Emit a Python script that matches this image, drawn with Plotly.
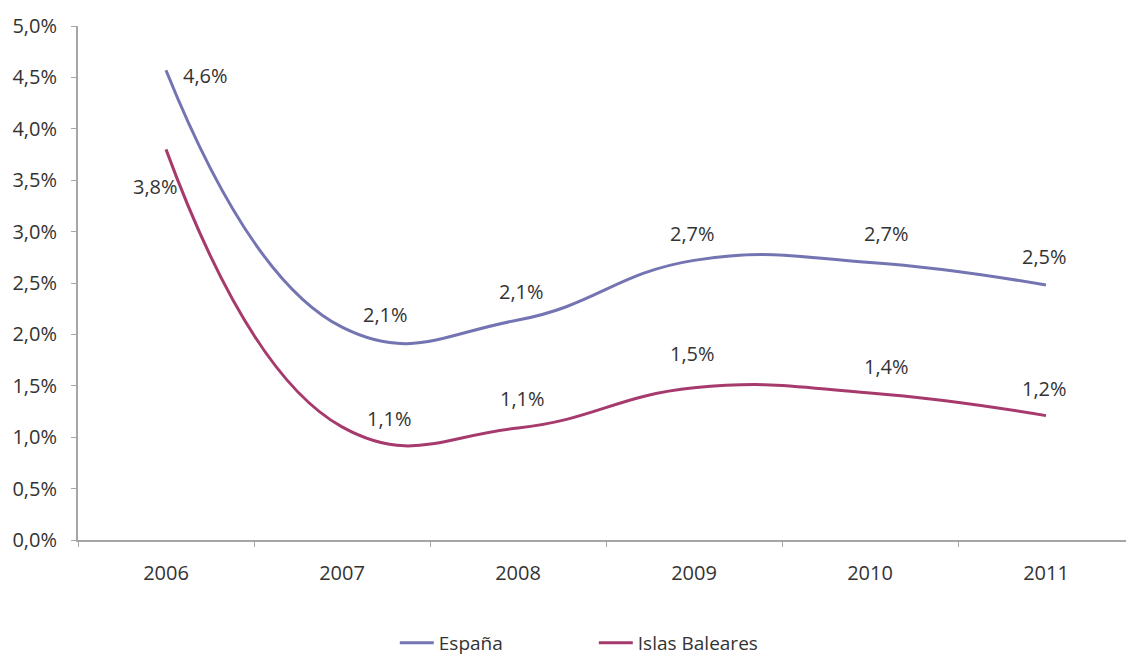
import plotly.graph_objects as go

years = ["2006", "2007", "2008", "2009", "2010", "2011"]
espana = [4.57, 2.07, 2.14, 2.72, 2.70, 2.48]
baleares = [3.80, 1.10, 1.09, 1.48, 1.43, 1.21]

# label offsets in pixels (dx, dy), dy positive = up
espana_offsets = [(39, -5), (43, 13), (3, 29), (-2, 27), (16, 29), (-2, 29)]
baleares_offsets = [(-11, -37), (47, 8), (4, 29), (-2, 34), (16, 27), (-2, 27)]

COLOR_ES = "#7474B2"
COLOR_IB = "#A63A6D"
FONT = "'Open Sans', 'Noto Sans', sans-serif"
TXT = "#333333"


def fmt(v):
    return f"{v:.1f}".replace(".", ",") + "%"


fig = go.Figure()
fig.add_trace(go.Scatter(
    x=years, y=espana, mode="lines", name="España",
    line=dict(color=COLOR_ES, width=3, shape="spline", smoothing=1.3),
))
fig.add_trace(go.Scatter(
    x=years, y=baleares, mode="lines", name="Islas Baleares",
    line=dict(color=COLOR_IB, width=3, shape="spline", smoothing=1.3),
))

# category axis: annotations placed by index so "2006" isn't read as a number
for vals, offs in ((espana, espana_offsets), (baleares, baleares_offsets)):
    for i, (v, (dx, dy)) in enumerate(zip(vals, offs)):
        fig.add_annotation(
            x=i, y=v, xref="x", yref="y", text=fmt(v), showarrow=False,
            xshift=dx, yshift=dy,
            font=dict(family=FONT, size=20, color=TXT),
        )

# page body has an 8px margin, so the figure is 8px smaller than the window
fig.update_layout(
    width=1126, height=653,
    margin=dict(l=70, r=0, t=18, b=121, autoexpand=False),
    plot_bgcolor="white", paper_bgcolor="white",
    separators=",.",
    font=dict(family=FONT, size=20, color=TXT),
    showlegend=True,
    legend=dict(
        orientation="h", x=0.3, xanchor="left", y=-0.2, yanchor="middle",
        font=dict(family=FONT, size=19, color=TXT),
        itemwidth=34, entrywidth=150, entrywidthmode="pixels",
        traceorder="normal",
    ),
)
fig.update_xaxes(
    type="category", range=[-0.5, 5.5],
    showline=True, linecolor="#A6A6A6", linewidth=2,
    ticks="outside", tickson="boundaries", ticklen=5, tickcolor="#A6A6A6",
    showgrid=False, zeroline=False,
    ticklabelstandoff=14,
)
fig.update_yaxes(
    range=[0, 5], dtick=0.5, tickformat=".1f", ticksuffix="%",
    showline=True, linecolor="#A6A6A6", linewidth=2,
    ticks="outside", ticklen=5, tickcolor="#A6A6A6",
    showgrid=False, zeroline=False,
    ticklabelstandoff=10,
)

fig.write_html("out.html")
